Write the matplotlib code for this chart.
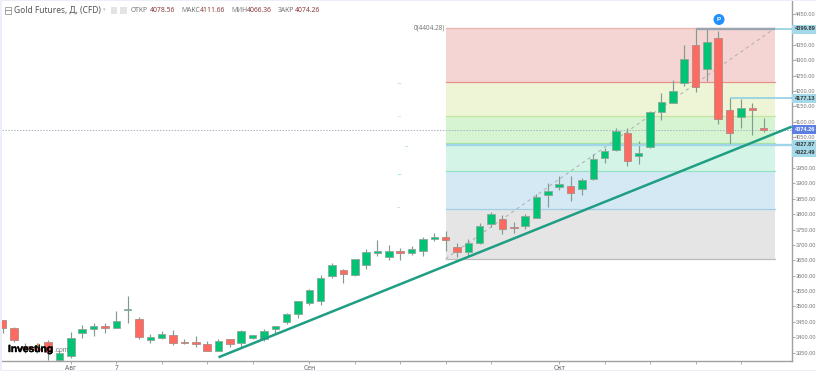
import matplotlib
matplotlib.use('Agg')
import matplotlib.pyplot as plt
import matplotlib.patheffects as pe
from matplotlib.patches import Rectangle, Circle
from matplotlib.ticker import FixedLocator, FuncFormatter

plt.rcParams['font.family'] = ['Noto Sans', 'DejaVu Sans']
PRICE_FONT = ['Liberation Sans', 'DejaVu Sans']

# daily candles
opens = [3456, 3429, 3373, 3365, 3384, 3326, 3340, 3415, 3427, 3437, 3430, 3488, 3458, 3392, 3399, 3407, 3385,
         3384, 3377, 3356, 3394, 3381, 3398, 3394, 3427, 3451, 3476, 3510, 3517, 3600, 3620, 3601, 3634, 3675,
         3662, 3679, 3673, 3680, 3719, 3727, 3692, 3678, 3707, 3768, 3783, 3759, 3762, 3788, 3863, 3887, 3892,
         3882, 3913, 3983, 4008, 4062, 3990, 4017, 4132, 4161, 4226, 4348, 4270, 4371, 4137, 4115, 4145, 4078.56]
highs = [3456, 3434, 3380, 3380, 3391, 3359, 3416, 3440, 3445, 3445, 3484, 3534, 3465, 3411, 3421, 3424, 3393,
         3404, 3389, 3393, 3393, 3423, 3407, 3426, 3437, 3479, 3519, 3556, 3602, 3640, 3623, 3655, 3687, 3716,
         3699, 3689, 3696, 3725, 3740, 3744, 3707, 3718, 3770, 3808, 3797, 3775, 3799, 3864, 3900, 3924, 3924,
         3917, 3995, 4014, 4081, 4079, 4038, 4136, 4192, 4236, 4349, 4400, 4400, 4396, 4176, 4173, 4160, 4111.66]
lows = [3413, 3384, 3348, 3349, 3326, 3326, 3332, 3399, 3405, 3413, 3430, 3445, 3393, 3380, 3393, 3376, 3378,
        3369, 3354, 3354, 3367, 3364, 3395, 3389, 3411, 3444, 3464, 3506, 3506, 3593, 3575, 3598, 3622, 3665,
        3651, 3652, 3668, 3664, 3713, 3681, 3661, 3664, 3704, 3758, 3736, 3740, 3752, 3786, 3822, 3878, 3844,
        3863, 3911, 3965, 4006, 3957, 3963, 4016, 4106, 4160, 4216, 4198, 4232, 4093, 4024, 4080, 4057, 4066.36]
closes = [3431, 3391, 3362, 3359, 3353, 3348, 3399, 3427, 3436, 3431, 3454, 3492, 3402, 3401, 3410, 3382, 3381,
          3377, 3356, 3387, 3379, 3419, 3406, 3420, 3437, 3476, 3517, 3553, 3593, 3636, 3607, 3654, 3677, 3681,
          3681, 3673, 3686, 3718, 3725, 3716, 3678, 3705, 3760, 3801, 3753, 3756, 3793, 3855, 3874, 3898, 3868,
          3910, 3978, 4005, 4071, 3973, 4000, 4133, 4163, 4201, 4305, 4214, 4360, 4109, 4064, 4146, 4137, 4074.26]

fib_levels = [4404.28, 4227.5, 4118, 4029.8, 3941, 3815, 3655]
fib_fills = ['#f5d5d3', '#edf5d6', '#d6f3d2', '#d3f4e7', '#d5e9f4', '#e5e5e5']
fib_lines = ['#e8b4b0', '#e8938a', '#c4e69c', '#a4e49c', '#96e2c4', '#a2cde6', '#bcbcbc']
fib_start, fib_end = 39, 68

price_ticks = list(range(3350, 4451, 50))
date_ticks = [6, 10, 14, 18, 22, 27, 31, 35, 39, 43, 49, 53, 57, 61, 65]
date_labels = {6: 'Авг', 10: '7', 27: 'Сен', 49: 'Окт'}

last_close = 4074.26
trend_x = [19, 69.47]
trend_y = [3335, 4084]

W, H = 816, 371
fig = plt.figure(figsize=(W / 100, H / 100), dpi=100, facecolor='white')
ax = fig.add_axes([2 / W, (H - 360.7) / H, 789.7 / W, 359.7 / H])
ax.set_xlim(-0.06, 69.47)
ax.set_ylim(3323.9, 4492.2)


def px(x):
    return x / W


def py(y):
    return 1 - y / H


# frame strips
fig.add_artist(Rectangle((0, 0), 2 / W, 1, transform=fig.transFigure, color='#eceef8', lw=0))
fig.add_artist(Rectangle((0, py(1)), 1, 1 / H, transform=fig.transFigure, color='#eceef8', lw=0))
fig.add_artist(Rectangle((0, 0), 1, 1 / H, transform=fig.transFigure, color='#eceef8', lw=0))

# fibonacci zones
for i in range(6):
    ax.fill_between([fib_start, fib_end], fib_levels[i + 1], fib_levels[i], color=fib_fills[i], lw=0, zorder=1)
for lvl, c in zip(fib_levels, fib_lines):
    ax.plot([fib_start, fib_end], [lvl, lvl], color=c, lw=0.9, zorder=1.5)
ax.plot([fib_start, fib_end], [fib_levels[-1], fib_levels[0]], color='#b4b4b4', lw=0.8, ls=(0, (3, 3)), zorder=1.6)
ax.text(fib_start - 0.05, fib_levels[0], '0(4404.28)', fontsize=4.6, color='#777777', ha='right', va='center')

# specks left of the zones
for xs, lvl, c in [(34.8, 4227, '#e8d8d8'), (34.8, 4118, '#d8f0c8'), (35.4, 4021, '#b8f0c8'),
                   (34.8, 3930, '#a8efd8'), (34.7, 3823, '#d0e4f0')]:
    ax.plot([xs, xs + 0.2], [lvl, lvl], color=c, lw=0.8, zorder=1)

# last price line
ax.axhline(last_close, color='#aab2c4', lw=0.7, ls=(0, (1.5, 1.5)), zorder=1.7)

# candles
for i in range(len(opens)):
    up = closes[i] >= opens[i]
    ax.plot([i, i], [lows[i], highs[i]], color='#7f9c8e', lw=0.85, zorder=2, solid_capstyle='butt')
    ax.bar(i, abs(closes[i] - opens[i]), bottom=min(opens[i], closes[i]), width=0.66,
           color='#00c374' if up else '#ff6a60', edgecolor='#8fa79b' if up else '#b08a86', linewidth=0.6, zorder=3)

# horizontal levels
ax.plot([39, 69.47], [4023.5, 4023.5], color='#9fd5e6', lw=1.7, zorder=2.5, solid_capstyle='butt')
ax.plot([64, 69.47], [4177.13, 4177.13], color='#8fd0e2', lw=1.2, zorder=2.5, solid_capstyle='butt')
ax.plot([61, 68], [4399.89, 4399.89], color='#9aa5b1', lw=1.7, zorder=2.5, solid_capstyle='butt')
ax.plot([68, 69.47], [4399.89, 4399.89], color='#8fd0e2', lw=1.2, zorder=2.5, solid_capstyle='butt')

# trend line
ax.plot(trend_x, trend_y, color='#1f9e84', lw=1.8, zorder=4, solid_capstyle='butt')

# axes
for s in ['top', 'left']:
    ax.spines[s].set_visible(False)
for s in ['right', 'bottom']:
    ax.spines[s].set_color('#a0a0a0')
    ax.spines[s].set_linewidth(1)
ax.yaxis.tick_right()
ax.yaxis.set_major_locator(FixedLocator(price_ticks))
ax.yaxis.set_major_formatter(FuncFormatter(lambda v, p: f'{v:.2f}'))
ax.xaxis.set_major_locator(FixedLocator(date_ticks))
ax.set_xticklabels([date_labels.get(t, '') for t in date_ticks])
ax.tick_params(axis='y', labelsize=4.1, labelcolor='#777777', color='#a0a0a0', length=2, width=0.6, pad=0.6,
               labelfontfamily='Liberation Sans')
ax.tick_params(axis='x', labelsize=4.8, labelcolor='#666666', color='#a0a0a0', length=2, width=0.6, pad=1)

# price labels on the axis
tags = [(4399.89, '#a3d9e8', '#333333'), (4177.13, '#a3d9e8', '#333333'), (4074.26, '#5d7fe3', 'white'),
        (4027.87, '#a3d9e8', '#333333'), (4022.49, '#a3d9e8', '#333333')]
tag_y = [29, 98, 129.7, 144.7, 152]
for (v, bg, fg), y in zip(tags, tag_y):
    fig.add_artist(Rectangle((px(792), py(y + 4.5)), 24 / W, 9 / H, transform=fig.transFigure, color=bg, lw=0, zorder=5))
    fig.text(px(794.5), py(y), f'{v:.2f}', fontsize=4.1, color=fg, fontweight='bold', family=PRICE_FONT,
             va='center', ha='left', zorder=6)

# pin marker
fig.add_artist(Circle((719, H - 19.5), 5.5, transform=None, color='#1e90ff', lw=0, zorder=6))
fig.text(px(719), py(19.5), 'P', fontsize=4.5, color='white', fontweight='bold', family='Liberation Sans',
         ha='center', va='center', zorder=7)

# header
fig.add_artist(Rectangle((px(5), py(14)), 6 / W, 7 / H, transform=fig.transFigure, fill=False, ec='#999999', lw=0.6))
fig.add_artist(Rectangle((px(5), py(10.7)), 6 / W, 0.5 / H, transform=fig.transFigure, color='#999999', lw=0))
fig.text(px(14), py(10), 'Gold Futures, Д, (CFD)', fontsize=6.05, color='#555555', va='center')
fig.text(px(102.5), py(10), '▾', fontsize=3.5, color='#bbbbbb', va='center')
for xi in [111, 120]:
    fig.add_artist(Rectangle((px(xi), py(14)), 6.5 / W, 7 / H, transform=fig.transFigure, color='#e3e3e3', lw=0))
header = [(131, 'ОТКР', '#777777'), (150, '4078.56', '#8a3b3b'), (181, 'МАКС', '#777777'), (200, '4111.66', '#8a3b3b'),
          (231, 'МИН', '#777777'), (247, '4066.36', '#8a3b3b'), (278, 'ЗАКР', '#777777'), (295, '4074.26', '#8a3b3b')]
for xi, s, c in header:
    fig.text(px(xi), py(10), s, fontsize=4.85, color=c, va='center')

# watermark
fig.text(px(8), py(349), 'Investing', fontsize=7.4, color='black', fontweight='bold', family='Liberation Sans',
         va='center', zorder=8, path_effects=[pe.withStroke(linewidth=0.3, foreground='black')])
fig.text(px(54.5), py(350.5), '.com', fontsize=4.8, color='#777777', family='Liberation Sans', va='center', zorder=8)
fig.add_artist(Circle((38.5, H - 344.5), 1, transform=None, color='#f5a623', lw=0, zorder=9))

fig.savefig('out.png', dpi=100)
